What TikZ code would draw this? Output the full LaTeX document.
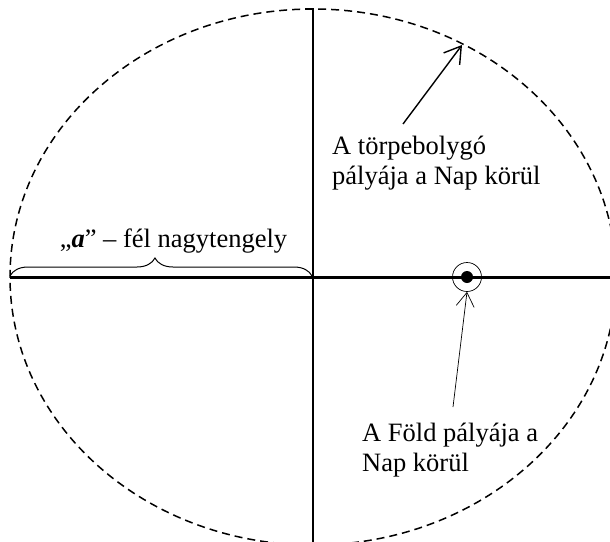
\documentclass[tikz,border=0pt]{standalone}
\usepackage{fontspec}
\setmainfont{Liberation Serif}
\usetikzlibrary{arrows.meta,decorations.pathreplacing}
\tikzset{
  orbitline/.style={line width=1.5pt, dash pattern=on 8pt off 5pt},
  axisline/.style={line width=3pt},
  vline/.style={line width=1.3pt},
  lbl/.style={inner sep=0pt, align=left, font=\fontsize{26.5}{30}\selectfont},
  bigarrow/.style={line width=1.4pt, -{Straight Barb[length=16pt,width=20pt,line width=1.4pt]}},
  thinarrow/.style={line width=0.7pt, -{Straight Barb[length=14pt,width=18pt,line width=0.7pt]}},
}
\begin{document}
\begin{tikzpicture}[x=1pt,y=-1pt]
\useasboundingbox (0,0) rectangle (610,541);
\clip (0,0) rectangle (610,541);
% orbit of dwarf planet
\draw[orbitline] (313,277) ellipse [x radius=303, y radius=268];
% axes
\coordinate (axL) at (10,277);
\coordinate (axR) at (612,277);
\draw[axisline] (axL) -- (axR);
\coordinate (vT) at (313,9);
\coordinate (vTick) at (305,9);
\coordinate (vB) at (313,545);
\draw[vline] (vTick) -- (vT) -- (vB);
% brace
\coordinate (brL) at (10,276);
\coordinate (brR) at (312,276);
\draw[line width=1pt, decorate, decoration={brace, amplitude=18pt, aspect=0.48}] (brL) -- (brR);
\node[lbl, anchor=base] (alabel) at (173.5,247) {„\textbf{\textit{a}}” – fél nagytengely};
% Sun and Earth orbit
\node[circle, fill, inner sep=0pt, minimum size=12pt] (sun) at (467,277) {};
\node[circle, draw, line width=0.7pt, inner sep=0pt, minimum size=29pt] (earthorbit) at (467,277) {};
% labels (base anchor = baseline of last line)
\node[lbl, anchor=base west] (dwarf) at (332,184) {A törpebolygó\\pályája a Nap körül};
\node[lbl, anchor=base west] (earth) at (362,471) {A Föld pályája a\\Nap körül};
% arrows
\coordinate (a1s) at (403,124);
\coordinate (a1t) at (462,45);
\draw[bigarrow] (a1s) -- (a1t);
\coordinate (a2s) at (453,407);
\draw[thinarrow] (a2s) -- (earthorbit.south);
\end{tikzpicture}
\end{document}
